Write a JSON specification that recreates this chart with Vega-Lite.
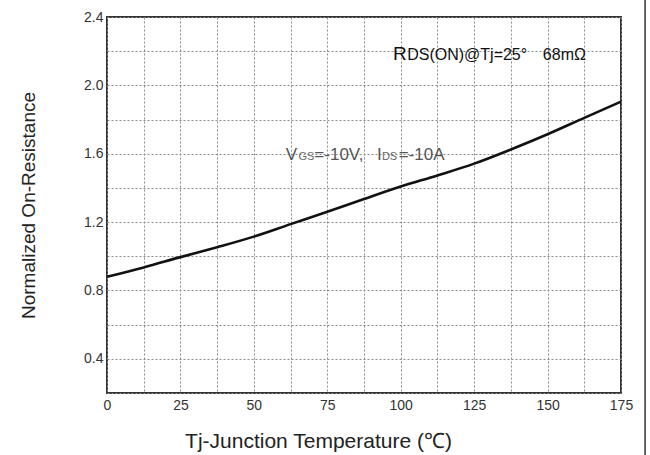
{
  "$schema": "https://vega.github.io/schema/vega-lite/v6.json",
  "width": 514,
  "height": 376,
  "autosize": {"type": "none"},
  "padding": {"left": 107, "top": 17, "right": 29, "bottom": 62},
  "background": "white",
  "config": {
    "font": "Liberation Sans",
    "view": {"stroke": "#333", "strokeWidth": 2},
    "axis": {"domain": false, "ticks": false, "grid": true, "gridColor": "#8a8a8a", "gridDash": [2, 2], "gridWidth": 1, "labelOverlap": false, "labelFont": "Liberation Sans", "labelFontSize": 14, "labelColor": "#333", "titleFont": "Liberation Sans", "titleFontWeight": "normal", "titleColor": "#222"}
  },
  "datasets": {
    "curve": [
      {"t": 0, "r": 0.88},
      {"t": 12.5, "r": 0.935},
      {"t": 25, "r": 0.995},
      {"t": 37.5, "r": 1.053},
      {"t": 50, "r": 1.115},
      {"t": 62.5, "r": 1.188},
      {"t": 75, "r": 1.26},
      {"t": 87.5, "r": 1.335},
      {"t": 100, "r": 1.408},
      {"t": 112.5, "r": 1.473},
      {"t": 125, "r": 1.542},
      {"t": 137.5, "r": 1.625},
      {"t": 150, "r": 1.714},
      {"t": 162.5, "r": 1.81},
      {"t": 175, "r": 1.905}
    ],
    "notes": [
      {"x": 97.4, "y": 2.148, "txt": "R", "k": "rbig"},
      {"x": 102.2, "y": 2.148, "txt": "DS(ON)@Tj=25°", "k": "r"},
      {"x": 148.4, "y": 2.148, "txt": "68mΩ", "k": "r"},
      {"x": 60.9, "y": 1.563, "txt": "V", "k": "v"},
      {"x": 65.2, "y": 1.563, "txt": "GS", "k": "vsub"},
      {"x": 70.6, "y": 1.563, "txt": "=-10V,", "k": "v"},
      {"x": 91.9, "y": 1.563, "txt": "I", "k": "v"},
      {"x": 93.6, "y": 1.563, "txt": "DS", "k": "vsub"},
      {"x": 99.3, "y": 1.563, "txt": "=-10A", "k": "v"}
    ],
    "edge": [{"x": 183.2, "y": 2.5, "y2": -0.17}]
  },
  "layer": [
    {
      "data": {"name": "curve"},
      "mark": {"type": "line", "color": "#111", "strokeWidth": 2.6, "interpolate": "monotone"},
      "encoding": {
        "x": {
          "field": "t", "type": "quantitative",
          "scale": {"domain": [0, 175], "nice": false, "zero": false},
          "axis": {
            "values": [0, 12.5, 25, 37.5, 50, 62.5, 75, 87.5, 100, 112.5, 125, 137.5, 150, 162.5, 175],
            "tickCount": 40,
            "labelExpr": "datum.value % 25 == 0 ? datum.label : ''",
            "labelPadding": 5,
            "labelFlush": false,
            "title": "Tj-Junction Temperature (℃)",
            "titleFontSize": 21,
            "titleX": 211,
            "titleY": 54,
            "titleAlign": "center",
            "titleBaseline": "alphabetic"
          }
        },
        "y": {
          "field": "r", "type": "quantitative",
          "scale": {"domain": [0.2, 2.4], "nice": false, "zero": false},
          "axis": {
            "values": [0.2, 0.4, 0.6, 0.8, 1.0, 1.2, 1.4, 1.6, 1.8, 2.0, 2.2, 2.4],
            "tickCount": 40,
            "format": ".1f",
            "labelExpr": "indexof(['0.4','0.8','1.2','1.6','2.0','2.4'], datum.label) >= 0 ? datum.label : ''",
            "labelPadding": 4,
            "labelFlush": false,
            "title": "Normalized On-Resistance",
            "titleFontSize": 19,
            "titleAngle": 270,
            "titleX": -79,
            "titleY": 188,
            "titleAlign": "center",
            "titleBaseline": "middle"
          }
        }
      }
    },
    {
      "data": {"name": "notes"},
      "transform": [{"filter": "datum.k == 'rbig'"}],
      "mark": {"type": "text", "align": "left", "baseline": "alphabetic", "fontSize": 19, "color": "#111"},
      "encoding": {"x": {"field": "x", "type": "quantitative"}, "y": {"field": "y", "type": "quantitative"}, "text": {"field": "txt"}}
    },
    {
      "data": {"name": "notes"},
      "transform": [{"filter": "datum.k == 'r'"}],
      "mark": {"type": "text", "align": "left", "baseline": "alphabetic", "fontSize": 16, "color": "#111"},
      "encoding": {"x": {"field": "x", "type": "quantitative"}, "y": {"field": "y", "type": "quantitative"}, "text": {"field": "txt"}}
    },
    {
      "data": {"name": "notes"},
      "transform": [{"filter": "datum.k == 'v'"}],
      "mark": {"type": "text", "align": "left", "baseline": "alphabetic", "fontSize": 17, "color": "#555"},
      "encoding": {"x": {"field": "x", "type": "quantitative"}, "y": {"field": "y", "type": "quantitative"}, "text": {"field": "txt"}}
    },
    {
      "data": {"name": "notes"},
      "transform": [{"filter": "datum.k == 'vsub'"}],
      "mark": {"type": "text", "align": "left", "baseline": "alphabetic", "fontSize": 11, "color": "#666"},
      "encoding": {"x": {"field": "x", "type": "quantitative"}, "y": {"field": "y", "type": "quantitative"}, "text": {"field": "txt"}}
    },
    {
      "data": {"name": "edge"},
      "mark": {"type": "rule", "color": "#333", "strokeWidth": 1.5},
      "encoding": {"x": {"field": "x", "type": "quantitative"}, "y": {"field": "y", "type": "quantitative"}, "y2": {"field": "y2"}}
    }
  ]
}
